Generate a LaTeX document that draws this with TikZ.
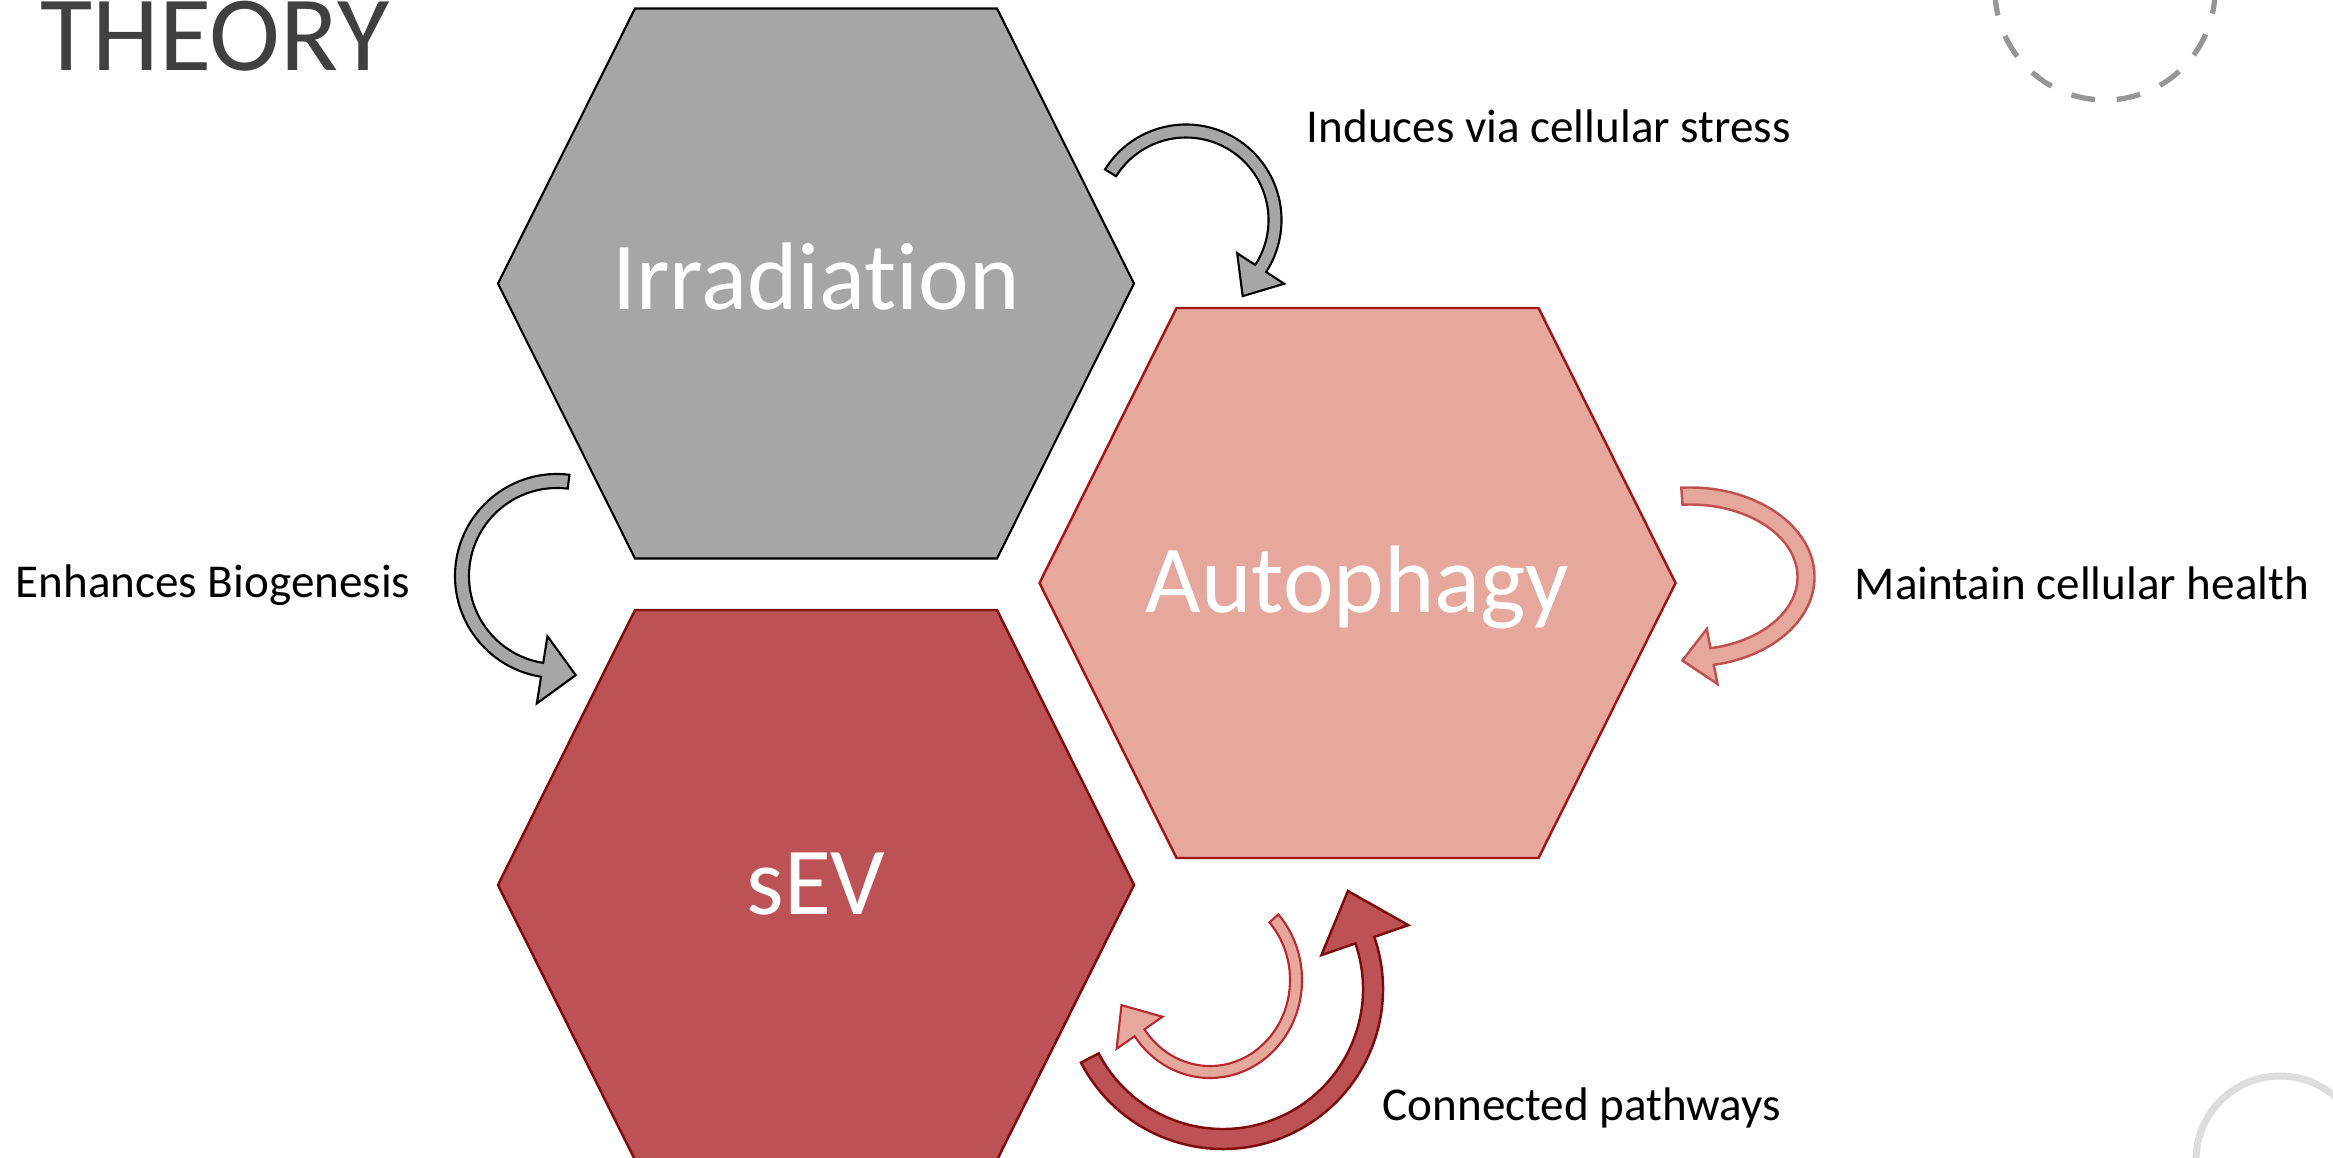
\documentclass[tikz,border=0pt]{standalone}
\usepackage{fontspec}
\setmainfont[Ligatures=NoCommon]{Carlito}
\usetikzlibrary{calc}

\definecolor{irrgray}{HTML}{A6A6A6}
\definecolor{autopink}{HTML}{E6A89C}
\definecolor{sevred}{HTML}{BC5256}
\definecolor{autoline}{HTML}{A31515}
\definecolor{sevline}{HTML}{7F0A0A}
\definecolor{healthline}{HTML}{C0504D}
\definecolor{pathline}{HTML}{B8282E}
\definecolor{titlegray}{HTML}{404040}
\definecolor{dashgray}{HTML}{969696}
\definecolor{ringgray}{HTML}{DDDDDD}

\tikzset{
  irrhex/.style={fill=irrgray, draw=black, line width=0.6pt},
  autohex/.style={fill=autopink, draw=autoline, line width=0.7pt},
  sevhex/.style={fill=sevred, draw=sevline, line width=0.7pt},
  hexlabel/.style={text=white, inner sep=0pt, anchor=base, font=\fontsize{27.3}{30}\selectfont},
  sidelabel/.style={text=black, inner sep=0pt, anchor=base west, font=\fontsize{13.4}{16}\selectfont},
  grayarrow/.style={fill=irrgray, draw=black, line width=0.6pt},
  healtharrow/.style={fill=autopink, draw=healthline, line width=0.7pt},
  backarrow/.style={fill=autopink, draw=pathline, line width=0.6pt},
  patharrow/.style={fill=sevred, draw=sevline, line width=0.7pt}
}

% hexagon around a centre
\newcommand{\hexcell}[2]{%
  \draw[#2, shift={#1}] (-318,0) -- (-181,-275) -- (181,-275) -- (318,0)
    -- (181,275) -- (-181,275) -- cycle;}

% bent block arrow: style, centre, x radius, y radius, start, end, half width, head half width, head length
\newcommand{\bentarrow}[9]{%
  \pgfmathsetmacro{\arSign}{2*(#6>#5)-1}%
  \pgfmathsetmacro{\arTang}{atan2((\arSign)*(#4)*cos(#6), -(\arSign)*(#3)*sin(#6))}%
  \draw[#1] ($#2+(#5:#3+#7 and #4+#7)$)
    arc[start angle=#5, end angle=#6, x radius=#3+#7, y radius=#4+#7]
    -- ($#2+(#6:#3+#8 and #4+#8)$)
    -- ($#2+(#6:#3 and #4)+(\arTang:#9)$)
    -- ($#2+(#6:#3-#8 and #4-#8)$)
    -- ($#2+(#6:#3-#7 and #4-#7)$)
    arc[start angle=#6, end angle=#5, x radius=#3-#7, y radius=#4-#7]
    -- cycle;}

\begin{document}
\begin{tikzpicture}[x=0.01cm, y=-0.01cm]
\useasboundingbox (0,0) rectangle (2333,1158);
\clip (0,0) rectangle (2333,1158);

% corner rings
\draw[dashgray, line width=1.5pt, dash pattern=on 6.8pt off 6.2pt] (2105,-10) circle[radius=110];
\draw[ringgray, line width=2pt] (2280,1160) circle[radius=84];

\node[anchor=base west, inner sep=0pt, text=titlegray, font=\fontsize{30.4}{34}\selectfont] (title) at (40,71) {THEORY};

% the three cells
\coordinate (irr) at (816,283.5);
\coordinate (auto) at (1357.5,583);
\coordinate (sev) at (816,885);
\hexcell{(irr)}{irrhex}
\hexcell{(auto)}{autohex}
\hexcell{(sev)}{sevhex}
\node[hexlabel] (irrlabel) at (816,310) {Irradiation};
\node[hexlabel] (autolabel) at (1357.5,612) {Autophagy};
\node[hexlabel] (sevlabel) at (816,914) {sEV};

% arrows
\coordinate (stressc) at (1186,220);
\coordinate (bioc) at (557,576);
\coordinate (healthc) at (1690,577);
\coordinate (backc) at (1210,980);
\coordinate (pathc) at (1223,989);
\bentarrow{grayarrow}{(stressc)}{89}{89}{-148}{33}{6.5}{28}{33}
\bentarrow{grayarrow}{(bioc)}{95}{95}{-83}{-261}{7}{34}{34}
\bentarrow{healtharrow}{(healthc)}{116}{81}{-94}{79}{8.5}{28}{30}
\bentarrow{backarrow}{(backc)}{86}{92}{-42}{145}{6}{28}{33}
\bentarrow{patharrow}{(pathc)}{150}{150}{152.6}{-19}{10}{46}{52}

\node[sidelabel] (stresslabel) at (1306,143) {Induces via cellular stress};
\node[sidelabel] (biolabel) at (15,597) {Enhances Biogenesis};
\node[sidelabel] (healthlabel) at (1854,600) {Maintain cellular health};
\node[sidelabel] (pathlabel) at (1382,1120) {Connected pathways};
\end{tikzpicture}
\end{document}
